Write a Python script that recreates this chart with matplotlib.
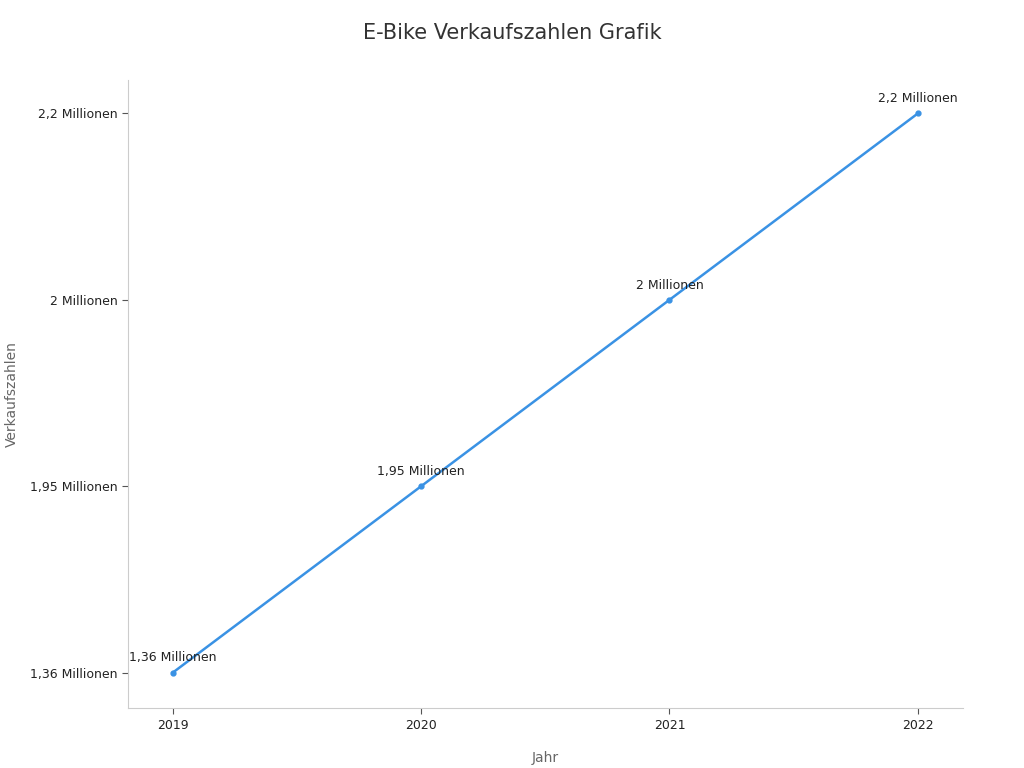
import matplotlib
matplotlib.use("Agg")
import matplotlib.pyplot as plt

years = [2019, 2020, 2021, 2022]
sales = [1.36, 1.95, 2.0, 2.2]
labels = ["1,36 Millionen", "1,95 Millionen", "2 Millionen", "2,2 Millionen"]

# categorical y axis: each distinct value gets an evenly spaced slot
cats = sorted(set(sales))
ypos = [cats.index(v) for v in sales]

fig = plt.figure(figsize=(10.24, 7.68), dpi=100)
ax = fig.add_axes([0.125, 0.078, 0.815, 0.818])
color = "#3a92e4"
ax.plot(years, ypos, color=color, lw=1.8, marker="o", ms=3.5)
for x, y, t in zip(years, ypos, labels):
    ax.annotate(t, (x, y), xytext=(0, 6), textcoords="offset points",
                ha="center", va="bottom", fontsize=9, color="#222222")
ax.set_xlim(2019 - 0.18, 2022 + 0.18)
ax.set_ylim(-0.19, 3.18)
ax.set_xticks(years)
ax.set_xticklabels([str(y) for y in years])
ax.set_yticks(range(len(cats)))
ax.set_yticklabels([labels[sales.index(c)] for c in cats])
ax.tick_params(labelsize=9, colors="#222222", length=4)
for s in ["top", "right"]:
    ax.spines[s].set_visible(False)
for s in ["left", "bottom"]:
    ax.spines[s].set_color("#cccccc")
ax.tick_params(color="#555555")
ax.set_xlabel("Jahr", fontsize=10, color="#666666", labelpad=14)
ax.set_ylabel("Verkaufszahlen", fontsize=10, color="#666666", labelpad=8)
fig.suptitle("E-Bike Verkaufszahlen Grafik", fontsize=15, color="#333333", y=0.97)
fig.savefig("out.png", dpi=100)
